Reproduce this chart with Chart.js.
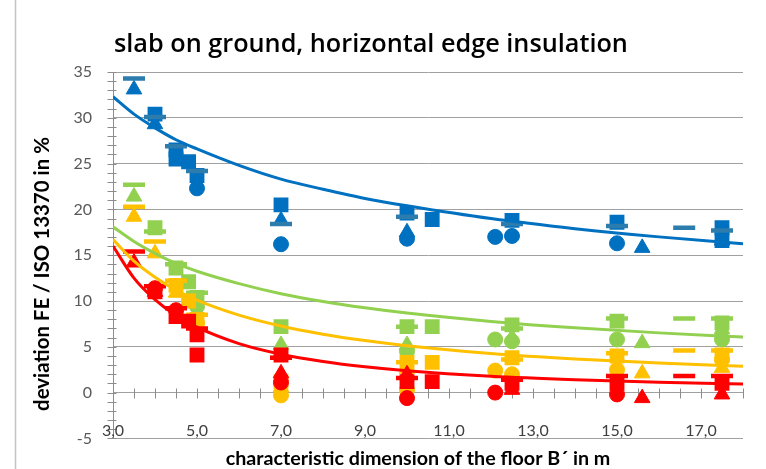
<!DOCTYPE html>
<html>
<head>
<meta charset="utf-8">
<script src="https://cdn.jsdelivr.net/npm/chart.js@4.4.1/dist/chart.umd.min.js"></script>
<style>
  html, body { margin: 0; padding: 0; background: #ffffff; }
  #wrap { width: 766px; height: 469px; position: relative; }
</style>
</head>
<body>
<div id="wrap"><canvas id="c" width="766" height="469"></canvas></div>
<script>
// ---- texts ----
const chartTitle = 'slab on ground, horizontal edge insulation';
const xAxisTitle = 'characteristic dimension of the floor B\u00B4 in m';
const yAxisTitle = 'deviation FE / ISO 13370 in %';

// ---- axes ----
const xTickValues = [3, 5, 7, 9, 11, 13, 15, 17];
const xTickLabels = ['3,0', '5,0', '7,0', '9,0', '11,0', '13,0', '15,0', '17,0'];
const xMin = 3, xMax = 18, xMinorStep = 0.5;
const yMin = -5, yMax = 35, yMajorStep = 5, yMinorStep = 1;

// ---- colours per group ----
const groupColors = { blue: '#0070C0', green: '#92D050', yellow: '#FFC000', red: '#FF0000' };
const blueDashColor = '#2C7DAE';

// ---- measured deviations: blue group ----
const blueCircleX   = [5.0, 7.0, 10.0, 12.1, 12.5, 15.0];
const blueCircleY   = [22.3, 16.2, 16.8, 17.0, 17.1, 16.3];
const blueTriangleX = [3.5, 4.0, 7.0, 10.0, 15.6, 17.5];
const blueTriangleY = [33.1, 29.3, 18.8, 17.5, 15.8, 16.6];
const blueSquareX   = [4.0, 4.5, 4.5, 4.8, 5.0, 7.0, 10.0, 10.6, 12.5, 15.0, 17.5, 17.5];
const blueSquareY   = [30.4, 26.5, 25.5, 25.2, 23.7, 20.5, 19.6, 18.9, 18.8, 18.6, 18.0, 16.6];
const blueDashX     = [3.5, 4.0, 4.5, 5.0, 7.0, 10.0, 12.5, 15.0, 16.6, 17.5];
const blueDashY     = [34.3, 30.1, 26.9, 24.2, 18.4, 19.2, 18.4, 18.2, 18.0, 17.7];

// ---- measured deviations: green group ----
const greenCircleX   = [5.0, 10.0, 12.1, 12.5, 15.0, 17.5];
const greenCircleY   = [9.4, 4.5, 5.8, 5.6, 5.8, 5.8];
const greenTriangleX = [3.5, 7.0, 10.0, 12.5, 15.6, 17.5];
const greenTriangleY = [21.4, 5.2, 5.2, 6.0, 5.4, 6.9];
const greenSquareX   = [4.0, 4.5, 4.8, 5.0, 7.0, 10.0, 10.6, 12.5, 15.0, 17.5];
const greenSquareY   = [18.0, 13.6, 12.1, 10.4, 7.2, 7.2, 7.2, 7.4, 7.8, 7.6];
const greenDashX     = [3.5, 4.0, 4.5, 5.0, 7.0, 10.0, 12.5, 15.0, 16.6, 17.5];
const greenDashY     = [22.7, 17.6, 14.0, 10.9, 3.8, 7.2, 7.0, 8.1, 8.1, 8.1];

// ---- measured deviations: yellow group ----
const yellowCircleX   = [5.0, 7.0, 10.0, 12.1, 12.5, 15.0, 17.5];
const yellowCircleY   = [7.6, -0.3, 0.3, 2.4, 2.0, 2.5, 3.6];
const yellowTriangleX = [3.5, 4.0, 4.5, 7.0, 10.0, 15.6, 17.5];
const yellowTriangleY = [19.2, 15.2, 10.9, 0.6, 2.6, 2.1, 2.7];
const yellowSquareX   = [4.5, 4.8, 5.0, 7.0, 10.0, 10.6, 12.5, 15.0, 17.5];
const yellowSquareY   = [11.7, 10.0, 8.0, 1.2, 3.3, 3.3, 3.8, 4.0, 4.1];
const yellowDashX     = [3.5, 4.0, 4.5, 5.0, 10.0, 12.5, 15.0, 16.6, 17.5];
const yellowDashY     = [20.3, 16.5, 12.2, 8.5, 3.3, 3.6, 4.3, 4.6, 4.6];

// ---- measured deviations: red group ----
const redCircleX   = [4.0, 4.5, 7.0, 10.0, 12.1, 15.0];
const redCircleY   = [11.4, 9.0, 1.1, -0.6, 0.0, -0.2];
const redTriangleX = [3.5, 4.0, 7.0, 10.0, 12.5, 15.6, 17.5];
const redTriangleY = [14.2, 11.0, 2.1, 2.0, 0.3, -0.6, -0.2];
const redSquareX   = [4.0, 4.5, 4.8, 5.0, 5.0, 7.0, 10.0, 10.6, 12.5, 15.0, 17.5];
const redSquareY   = [11.0, 8.3, 7.8, 6.3, 4.1, 4.1, 1.2, 1.2, 1.0, 1.0, 1.0];
const redDashX     = [3.5, 4.0, 4.5, 5.0, 7.0, 10.0, 12.5, 15.0, 16.6, 17.5];
const redDashY     = [15.4, 11.6, 9.2, 7.0, 3.8, 1.6, 1.4, 1.8, 1.8, 1.8];

// ---- trend curves ----
const trendX       = [3, 3.5, 4, 4.5, 5, 6, 7, 8, 9, 10, 12, 14, 16, 18];
const blueTrendY   = [32.3, 30.4, 28.9, 27.6, 26.6, 24.8, 23.3, 22.2, 21.2, 20.4, 19.0, 17.9, 17.0, 16.25];
const greenTrendY  = [18.1, 16.5, 15.2, 14.1, 13.25, 11.9, 10.8, 9.95, 9.26, 8.68, 7.77, 7.07, 6.52, 6.07];
const yellowTrendY = [16.7, 14.35, 12.6, 11.2, 10.1, 8.46, 7.27, 6.38, 5.68, 5.12, 4.28, 3.68, 3.23, 2.88];
const redTrendY    = [16.0, 12.5, 10.15, 8.42, 7.14, 5.34, 4.18, 3.39, 2.81, 2.38, 1.78, 1.40, 1.13, 0.94];

// ---- helpers ----
const zip = (xs, ys) => xs.map((x, i) => ({ x: x, y: ys[i] }));

const markerStyles = {
  circle:   { pointStyle: 'circle',   pointRadius: 7.5,  pointBorderWidth: 1 },
  triangle: { pointStyle: 'triangle', pointRadius: 9,    pointBorderWidth: 1 },
  square:   { pointStyle: 'rect',     pointRadius: 10.5, pointBorderWidth: 0 },
  dash:     { pointStyle: 'line',     pointRadius: 11,   pointBorderWidth: 4.5 }
};

function markerSet(label, xs, ys, color, kind, order) {
  const s = markerStyles[kind];
  return {
    type: 'scatter',
    label: label,
    data: zip(xs, ys),
    showLine: false,
    pointStyle: s.pointStyle,
    pointRadius: s.pointRadius,
    pointHoverRadius: s.pointRadius,
    pointBorderWidth: s.pointBorderWidth,
    pointBackgroundColor: color,
    pointBorderColor: color,
    order: order
  };
}

function trendSet(label, ys, color) {
  return {
    type: 'line',
    label: label,
    data: zip(trendX, ys),
    showLine: true,
    borderColor: color,
    borderWidth: 3,
    pointRadius: 0,
    fill: false,
    cubicInterpolationMode: 'monotone',
    order: 0
  };
}

const datasets = [
  markerSet('blue square',   blueSquareX,   blueSquareY,   groupColors.blue, 'square',   4.4),
  markerSet('blue circle',   blueCircleX,   blueCircleY,   groupColors.blue, 'circle',   4.3),
  markerSet('blue triangle', blueTriangleX, blueTriangleY, groupColors.blue, 'triangle', 4.2),
  markerSet('blue dash',     blueDashX,     blueDashY,     blueDashColor,    'dash',     4.1),

  markerSet('green square',   greenSquareX,   greenSquareY,   groupColors.green, 'square',   3.4),
  markerSet('green circle',   greenCircleX,   greenCircleY,   groupColors.green, 'circle',   3.3),
  markerSet('green triangle', greenTriangleX, greenTriangleY, groupColors.green, 'triangle', 3.2),
  markerSet('green dash',     greenDashX,     greenDashY,     groupColors.green, 'dash',     3.1),

  markerSet('yellow square',   yellowSquareX,   yellowSquareY,   groupColors.yellow, 'square',   2.4),
  markerSet('yellow circle',   yellowCircleX,   yellowCircleY,   groupColors.yellow, 'circle',   2.3),
  markerSet('yellow triangle', yellowTriangleX, yellowTriangleY, groupColors.yellow, 'triangle', 2.2),
  markerSet('yellow dash',     yellowDashX,     yellowDashY,     groupColors.yellow, 'dash',     2.1),

  markerSet('red square',   redSquareX,   redSquareY,   groupColors.red, 'square',   1.4),
  markerSet('red circle',   redCircleX,   redCircleY,   groupColors.red, 'circle',   1.3),
  markerSet('red triangle', redTriangleX, redTriangleY, groupColors.red, 'triangle', 1.2),
  markerSet('red dash',     redDashX,     redDashY,     groupColors.red, 'dash',     1.1),

  trendSet('blue trend',   blueTrendY,   groupColors.blue),
  trendSet('green trend',  greenTrendY,  groupColors.green),
  trendSet('yellow trend', yellowTrendY, groupColors.yellow),
  trendSet('red trend',    redTrendY,    groupColors.red)
];

// pick a font size so that a text spans the given width
function fitFont(ctx, text, weight, family, width) {
  ctx.font = weight + ' 20px ' + family;
  const size = 20 * width / ctx.measureText(text).width;
  return weight + ' ' + size.toFixed(2) + 'px ' + family;
}

// minor tick marks, x labels, chart frame line, title and axis titles
const decorations = {
  id: 'decorations',
  beforeDatasetsDraw(chart) {
    const ctx = chart.ctx;
    const xs = chart.scales.x, ys = chart.scales.y;
    const y0 = Math.round(ys.getPixelForValue(0)) + 0.5;
    const left = Math.round(xs.left) + 0.5;
    ctx.save();
    ctx.strokeStyle = '#8c8c8c';
    ctx.lineWidth = 1;
    ctx.beginPath();
    // horizontal axis through zero with crossing ticks
    for (let v = xMin; v <= xMax + 1e-9; v += xMinorStep) {
      const px = Math.round(xs.getPixelForValue(v)) + 0.5;
      ctx.moveTo(px, y0 - 5);
      ctx.lineTo(px, y0 + 5);
    }
    // vertical axis ticks
    for (let v = yMin; v <= yMax + 1e-9; v += yMinorStep) {
      const py = Math.round(ys.getPixelForValue(v)) + 0.5;
      ctx.moveTo(left - 6, py);
      ctx.lineTo(left + 3, py);
    }
    ctx.stroke();

    // category labels of the horizontal axis, just above the lower frame
    ctx.fillStyle = '#404040';
    ctx.font = '16px Lato';
    ctx.textAlign = 'center';
    ctx.textBaseline = 'middle';
    xTickValues.forEach((v, i) => {
      ctx.fillText(xTickLabels[i], xs.getPixelForValue(v), 431);
    });
    ctx.restore();
  },
  afterDraw(chart) {
    const ctx = chart.ctx;
    ctx.save();
    // left frame line
    ctx.strokeStyle = '#c4c4c4';
    ctx.lineWidth = 1.5;
    ctx.beginPath();
    ctx.moveTo(15.5, 0);
    ctx.lineTo(15.5, 469);
    ctx.stroke();

    ctx.fillStyle = '#000000';
    ctx.textBaseline = 'alphabetic';
    ctx.textAlign = 'left';
    ctx.font = fitFont(ctx, chartTitle, '600', '"Open Sans"', 514);
    ctx.fillText(chartTitle, 114, 52);

    ctx.textAlign = 'center';
    ctx.textBaseline = 'middle';
    ctx.font = fitFont(ctx, xAxisTitle, 'bold', 'Lato', 385);
    ctx.fillText(xAxisTitle, 418, 459);

    ctx.font = fitFont(ctx, yAxisTitle, 'bold', 'Lato', 274);
    ctx.translate(42, 274);
    ctx.rotate(-Math.PI / 2);
    ctx.fillText(yAxisTitle, 0, 0);
    ctx.restore();
  }
};

new Chart(document.getElementById('c'), {
  type: 'scatter',
  data: { datasets: datasets },
  options: {
    responsive: false,
    animation: false,
    devicePixelRatio: 1,
    layout: { padding: { left: 0, top: 72, right: 23, bottom: 0 } },
    plugins: {
      legend: { display: false },
      tooltip: { enabled: false },
      title: { display: false }
    },
    scales: {
      x: {
        type: 'linear',
        position: 'bottom',
        min: xMin,
        max: xMax,
        grid: { display: false, drawTicks: false },
        border: { display: false },
        afterBuildTicks: (scale) => { scale.ticks = xTickValues.map(v => ({ value: v })); },
        afterFit: (scale) => { scale.height = 30; },
        ticks: { display: false }
      },
      y: {
        type: 'linear',
        min: yMin,
        max: yMax,
        grid: { color: '#a0a0a0', lineWidth: 1, drawTicks: false },
        border: { display: true, color: '#8c8c8c', width: 1 },
        afterFit: (scale) => { scale.width = 113; },
        ticks: {
          stepSize: yMajorStep,
          padding: 21,
          color: '#595959',
          font: { family: 'Lato', size: 16 }
        }
      }
    }
  },
  plugins: [decorations]
});
</script>
</body>
</html>
